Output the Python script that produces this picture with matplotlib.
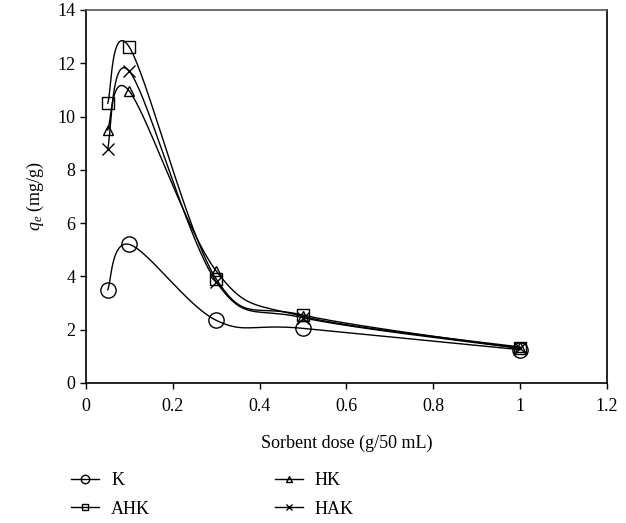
import numpy as np
import matplotlib.pyplot as plt
from matplotlib.lines import Line2D

plt.rcParams['font.family'] = ['Liberation Serif', 'DejaVu Serif']
plt.rcParams['mathtext.fontset'] = 'custom'
plt.rcParams['mathtext.it'] = 'Liberation Serif:italic'
plt.rcParams['mathtext.rm'] = 'Liberation Serif'

# Sorbent dose (g/50 mL)
dose = [0.05, 0.1, 0.3, 0.5, 1.0]

# Adsorption capacity qe (mg/g) for each sorbent
qe_k = [3.5, 5.2, 2.35, 2.05, 1.25]
qe_ahk = [10.5, 12.6, 3.9, 2.55, 1.3]
qe_hk = [9.5, 10.95, 4.2, 2.5, 1.35]
qe_hak = [8.8, 11.7, 3.8, 2.45, 1.3]

labels = ['K', 'AHK', 'HK', 'HAK']
markers = ['o', 's', '^', 'x']
msizes = [11, 8, 7, 8]


def smooth(x, y, n=40):
    # Excel-like smoothed line: Catmull-Rom segments as cubic Beziers
    x = np.asarray(x, float)
    y = np.asarray(y, float)
    px = np.concatenate([[x[0]], x, [x[-1]]])
    py = np.concatenate([[y[0]], y, [y[-1]]])
    t = np.linspace(0, 1, n)[:, None]
    xs, ys = [], []
    for i in range(1, len(px) - 2):
        p0 = np.array([px[i], py[i]])
        p3 = np.array([px[i + 1], py[i + 1]])
        p1 = p0 + (p3 - np.array([px[i - 1], py[i - 1]])) / 6
        p2 = p3 - (np.array([px[i + 2], py[i + 2]]) - p0) / 6
        pts = ((1 - t) ** 3) * p0 + 3 * ((1 - t) ** 2) * t * p1 \
            + 3 * (1 - t) * t ** 2 * p2 + t ** 3 * p3
        xs.append(pts[:, 0])
        ys.append(pts[:, 1])
    return np.concatenate(xs), np.concatenate(ys)


fig = plt.figure(figsize=(6.26, 5.23), dpi=100)
ax = fig.add_axes([0.1374, 0.2677, 0.8322, 0.7132])

handles = []
for yv, lab, mk, ms in zip([qe_k, qe_ahk, qe_hk, qe_hak], labels, markers, msizes):
    sx, sy = smooth(dose, yv)
    ax.plot(sx, sy, color='black', lw=1.0)
    ax.plot(dose, yv, linestyle='none', marker=mk, ms=ms, mfc='none',
            mec='black', mew=1.0)
    handles.append(Line2D([], [], color='black', lw=1.0, marker=mk,
                          ms=ms * 0.55, mfc='none', mec='black', mew=1.0,
                          label=lab))

ax.set_xlim(0, 1.2)
ax.set_ylim(0, 14)
ax.set_xticks(np.arange(0, 1.21, 0.2))
ax.set_xticklabels(['0', '0.2', '0.4', '0.6', '0.8', '1', '1.2'])
ax.set_yticks(range(0, 15, 2))
ax.tick_params(direction='out', length=4, width=1.0, labelsize=13,
               colors='black')
ax.tick_params(axis='x', pad=7)
for sp in ax.spines.values():
    sp.set_linewidth(1.2)
ax.spines['top'].set_color('#555555')

ax.set_xlabel('Sorbent dose (g/50 mL)', fontsize=13, labelpad=14)
ax.set_ylabel(r'$q_e$ (mg/g)', fontsize=13, labelpad=8)

# legend below the axes, K/AHK on the left and HK/HAK on the right
fig.legend(handles=handles, loc='upper left', bbox_to_anchor=(0.088, 0.128),
           ncol=2, frameon=False, fontsize=13, handlelength=1.55,
           columnspacing=6.9, labelspacing=0.62, handletextpad=0.65)

fig.savefig('out.png', dpi=100)
